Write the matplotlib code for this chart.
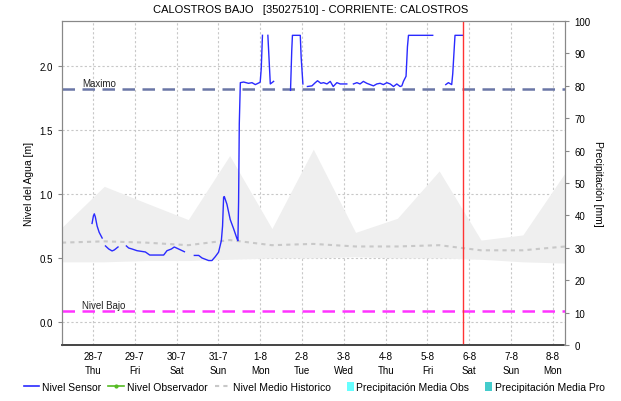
import numpy as np
import matplotlib
matplotlib.use("Agg")
import matplotlib.pyplot as plt
from matplotlib.lines import Line2D
from matplotlib.patches import Patch, Rectangle
from matplotlib.legend_handler import HandlerBase

plt.rcParams['font.family'] = ['Liberation Sans', 'DejaVu Sans']

title = "CALOSTROS BAJO   [35027510] - CORRIENTE: CALOSTROS"
day_labels = ["28-7\nThu", "29-7\nFri", "30-7\nSat", "31-7\nSun", "1-8\nMon", "2-8\nTue",
              "3-8\nWed", "4-8\nThu", "5-8\nFri", "6-8\nSat", "7-8\nSun", "8-8\nMon"]

# Nivel Sensor: hours since 28-7 00:00, level [m]; NaN = gap
sensor_hours = [-0.5, 0.3, 0.8, 1.4, 2.4, 3.6, 5.3, np.nan,
                7.2, 9.1, 11.0, 12.3, 14.4, np.nan,
                19.2, 20.5, 22.5, 25.3, 30.1, 32.6, 36.8, 40.6, 42.5, 45.0, 46.7, 49.2, 52.5, np.nan,
                58.2, 60.7, 62.6, 64.5, 66.4, 68.3, 70.2, 72.1, 73.7, 74.4, 75.0, 75.4, 76.9, 78.8,
                80.7, 82.7, 83.2, 83.6, 84.0, 84.6, 86.5, 89.3, 91.3, 93.2, 95.5, 96.0, 96.6, 97.3, np.nan,
                100.4, 101.8, 103.7, np.nan,
                113.4, 114.1, 114.5, 119.0, 119.5, 120.5, np.nan,
                123.1, 125.7, 127.6, 128.9, 130.8, 132.4, 134.3, 136.2, 137.9, 140.0, 141.9, 145.7, np.nan,
                149.5, 151.5, 153.3, 155.2, 157.2, 159.1, 161.0, 162.9, 164.8, 166.7, 168.7, 170.6,
                172.5, 174.4, 176.3, 177.3, 178.2, 179.7, 180.5, 181.1, 195.0, np.nan,
                202.5, 204.0, 205.9, 206.5, 207.4, 207.8, 212.0]
sensor_level = [0.77, 0.83, 0.845, 0.82, 0.75, 0.70, 0.656, np.nan,
                0.594, 0.570, 0.555, 0.563, 0.586, np.nan,
                0.594, 0.578, 0.570, 0.557, 0.547, 0.523, 0.523, 0.523, 0.557, 0.570, 0.586, 0.570, 0.549, np.nan,
                0.52, 0.52, 0.50, 0.49, 0.48, 0.48, 0.51, 0.545, 0.635, 0.75, 0.975, 0.98, 0.92, 0.80,
                0.73, 0.65, 0.635, 0.94, 1.55, 1.87, 1.875, 1.865, 1.87, 1.855, 1.87, 1.875, 1.98, 2.24, np.nan,
                2.24, 1.86, 1.88, np.nan,
                1.81, 2.12, 2.24, 2.24, 2.07, 1.86, np.nan,
                1.84, 1.845, 1.87, 1.885, 1.865, 1.87, 1.86, 1.88, 1.84, 1.87, 1.86, 1.86, np.nan,
                1.86, 1.87, 1.86, 1.88, 1.865, 1.855, 1.845, 1.86, 1.865, 1.855, 1.87, 1.86,
                1.84, 1.86, 1.84, 1.845, 1.88, 1.92, 2.15, 2.24, 2.24, np.nan,
                1.855, 1.87, 1.855, 1.94, 2.15, 2.24, 2.24]

# Historic band (min/max) and mean, in days since 28-7 00:00
band_days = [-0.74, 0.27, 1.27, 2.28, 3.27, 4.28, 5.27, 6.28, 7.28, 8.28, 9.28, 10.28, 11.3]
band_upper = [0.74, 1.06, 0.93, 0.80, 1.30, 0.73, 1.35, 0.70, 0.81, 1.18, 0.64, 0.68, 1.17]
band_lower = [0.47, 0.47, 0.48, 0.48, 0.49, 0.50, 0.50, 0.51, 0.50, 0.50, 0.49, 0.47, 0.46]
medio_hist = [0.62, 0.63, 0.62, 0.60, 0.64, 0.60, 0.61, 0.59, 0.59, 0.60, 0.56, 0.56, 0.59]

nivel_maximo = 1.823
nivel_bajo = 0.088
now_hours = 212.1


class NarrowPatchHandler(HandlerBase):
    def create_artists(self, legend, orig_handle, xdescent, ydescent, width, height, fontsize, trans):
        h = height * 1.25
        w = h * 0.75
        r = Rectangle((-xdescent + width - w, -ydescent - (h - height) / 2), w, h,
                      facecolor=orig_handle.get_facecolor(), edgecolor='none', transform=trans)
        return [r]


fig = plt.figure(figsize=(6.21, 4.02), dpi=100)
ax = fig.add_axes([0.0998, 0.1393, 0.8108, 0.806])
ax2 = ax.twinx()

ax.fill_between(band_days, band_lower, band_upper, color='#efefef', lw=0, zorder=1)
ax.plot(band_days, medio_hist, color='#c8c8c8', lw=1.5, ls=(0, (2, 2)), zorder=2)

sx = np.array(sensor_hours) / 24.0
ax.plot(sx, sensor_level, color='#2a2aff', lw=1.0, zorder=5)

ax.axhline(nivel_maximo, color='#6a76a6', lw=1.8, ls=(0, (5, 3)), zorder=4)
ax.axhline(nivel_bajo, color='#ff33ff', lw=1.8, ls=(0, (5, 3)), zorder=4)
ax.text(-0.25, nivel_maximo + 0.004, "Maximo", fontsize=7, color='#222222', va='bottom', ha='left')
ax.text(-0.25, nivel_bajo + 0.004, "Nivel Bajo", fontsize=7, color='#222222', va='bottom', ha='left')
ax.axvline(now_hours / 24.0, color='#ff3333', lw=1.0, zorder=6)

ax.set_xlim(-0.74, 11.3)
ax.set_ylim(-0.18, 2.352)
ax2.set_ylim(0, 100)

ax.set_xticks(range(len(day_labels)))
ax.set_xticklabels(day_labels, fontsize=7, linespacing=1.5)
ax.set_yticks([0.0, 0.5, 1.0, 1.5, 2.0])
ax.set_yticklabels(["0.0", "0.5", "1.0", "1.5", "2.0"], fontsize=7)
ax2.set_yticks(range(0, 101, 10))
ax2.set_yticklabels([str(v) for v in range(0, 101, 10)], fontsize=7)

ax.grid(True, color='#c8c8c8', ls=(0, (2, 2)), lw=0.8)
ax.set_axisbelow(True)
ax.tick_params(axis='x', length=0, pad=4)
ax.tick_params(axis='y', length=3, color='#888888', direction='out')
ax2.tick_params(axis='y', length=3, color='#888888', direction='out')

for a in (ax, ax2):
    for s in ['top', 'left', 'right']:
        a.spines[s].set_color('#888888')
    a.spines['bottom'].set_color('#444444')
    a.spines['bottom'].set_linestyle((0, (1, 1)))
    a.spines['bottom'].set_linewidth(1.2)

ax.set_ylabel("Nivel del Agua [m]", fontsize=7.5, labelpad=4)
ax2.set_ylabel("Precipitación [mm]", fontsize=7.5, rotation=270, labelpad=9)
fig.text(0.5, 0.975, title, ha='center', va='center', fontsize=8)

handles = [Line2D([], [], color='#2a2aff', lw=1.2),
           Line2D([], [], color='#55bb22', lw=1.2, marker='.', markersize=4),
           Line2D([], [], color='#c8c8c8', lw=1.5, ls=(0, (2, 2))),
           Patch(facecolor='#66ffff', edgecolor='none'),
           Patch(facecolor='#44cccc', edgecolor='none')]
labels = ["Nivel Sensor", "Nivel Observador", "Nivel Medio Historico",
          "Precipitación Media Obs", "Precipitación Media Pro"]
fig.legend(handles, labels, loc='center', bbox_to_anchor=(0.506, 0.035), ncol=5, frameon=False,
           fontsize=7.5, handlelength=1.5, handletextpad=0.25, columnspacing=0.7,
           handler_map={Patch: NarrowPatchHandler()})

fig.savefig("out.png", dpi=100)
